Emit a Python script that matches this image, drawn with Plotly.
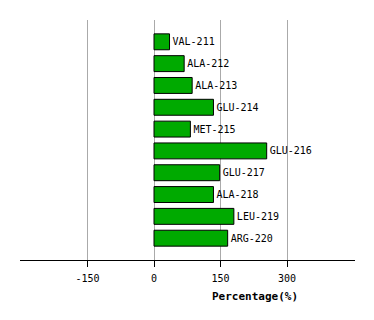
import plotly.graph_objects as go

residues = ["VAL-211", "ALA-212", "ALA-213", "GLU-214", "MET-215",
            "GLU-216", "GLU-217", "ALA-218", "LEU-219", "ARG-220"]
percentages = [35, 68, 86, 134, 82, 254, 148, 134, 180, 166]
tick_vals = [-150, 0, 150, 300]
tick_text = ["-150", "0", "150", "300"]

font = "DejaVu Sans Mono"

fig = go.Figure()
fig.add_trace(go.Bar(
    x=percentages,
    y=list(range(len(residues))),
    orientation="h",
    width=0.73,
    marker=dict(color="#00AA00", line=dict(color="#000000", width=1)),
    text=residues,
    textposition="outside",
    cliponaxis=False,
    textfont=dict(family=font, size=10, color="#000000"),
    hoverinfo="skip",
))

pw = 374 - 20 - 19
ph = 320 - 20 - 60

fig.update_layout(
    width=374, height=320,
    margin=dict(l=20, r=19, t=20, b=60),
    paper_bgcolor="white", plot_bgcolor="white",
    showlegend=False,
    xaxis=dict(
        range=[-302, 453],
        tickvals=tick_vals, ticktext=tick_text,
        showgrid=True, gridcolor="#aaaaaa", gridwidth=1,
        zeroline=False,
        showline=True, linecolor="#000000", linewidth=1,
        ticks="outside", ticklen=6, tickcolor="#000000",
        ticklabelstandoff=3,
        tickfont=dict(family=font, size=10, color="#000000"),
        fixedrange=True,
    ),
    yaxis=dict(
        range=[len(residues), -1],
        showticklabels=False, showgrid=False, zeroline=False,
        showline=False, ticks="",
        fixedrange=True,
    ),
    annotations=[dict(
        text="<b>Percentage(%)</b>",
        x=(255 - 20) / pw, y=(320 - 60 - 296) / ph,
        xref="paper", yref="paper",
        showarrow=False, font=dict(family=font, size=11, color="#000000"),
        xanchor="center", yanchor="middle",
    )],
)

fig.write_html("out.html")
